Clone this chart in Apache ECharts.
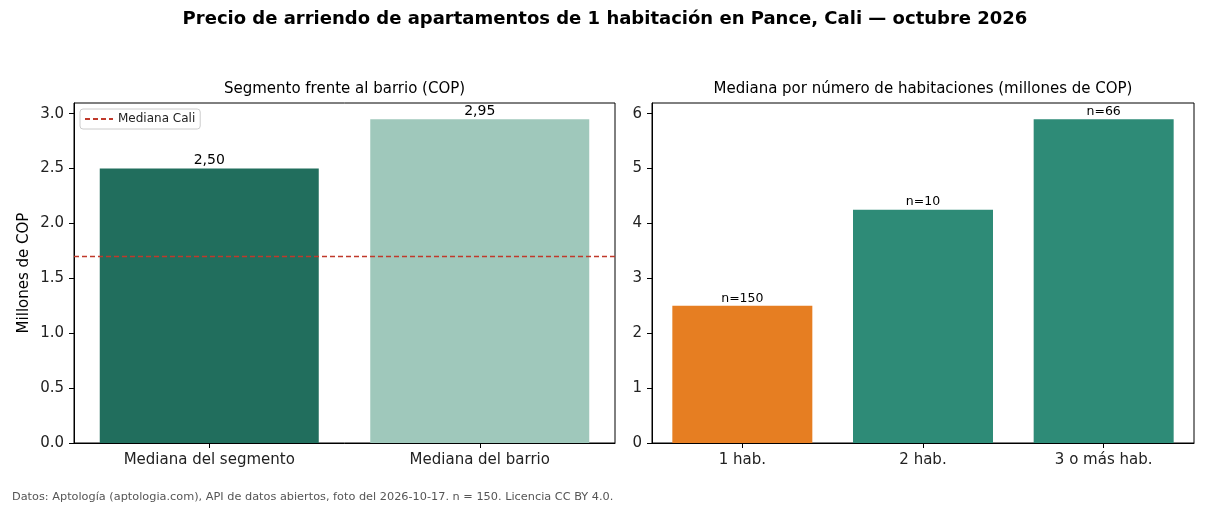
<!DOCTYPE html>
<html>
<head>
<meta charset="utf-8">
<script src="https://cdn.jsdelivr.net/npm/echarts@6/dist/echarts.min.js"></script>
<style>
    html, body { margin: 0; padding: 0; background: #fff; }
    #chart { width: 1210px; height: 506px; }
</style>
</head>
<body>
<div id="chart"></div>
<script>
// datos
const segCategories = ['Mediana del segmento', 'Mediana del barrio']
const segValues = [2.50, 2.95]
const medianaCali = 1.70
const habCategories = ['1 hab.', '2 hab.', '3 o más hab.']
const habValues = [2.50, 4.25, 5.90]
const habCounts = [150, 10, 66]

const segColors = ['#216e5d', '#9fc8bb']
const habColors = ['#e67e22', '#2e8b77', '#2e8b77']
const redLine = '#c0392b'
const font = 'DejaVu Sans'

const chart = echarts.init(document.getElementById('chart'))

const axisCommon = {
    axisLine: { show: true, lineStyle: { color: '#000', width: 1 } },
    axisTick: { show: true, inside: false, length: 5, lineStyle: { color: '#000' } },
    axisLabel: { color: '#222', fontSize: 15, fontFamily: font, margin: 10 },
    splitLine: { show: false }
}

chart.setOption({
    animation: false,
    textStyle: { fontFamily: font },
    title: [
        {
            text: 'Precio de arriendo de apartamentos de 1 habitación en Pance, Cali — octubre 2026',
            left: 605, top: 10, textAlign: 'center', padding: 0,
            textStyle: { fontSize: 18, fontWeight: 'bold', color: '#000', fontFamily: font }
        },
        {
            text: 'Segmento frente al barrio (COP)',
            left: 344.5, top: 82, textAlign: 'center', padding: 0,
            textStyle: { fontSize: 15, fontWeight: 'normal', color: '#000', fontFamily: font }
        },
        {
            text: 'Mediana por número de habitaciones (millones de COP)',
            left: 923, top: 82, textAlign: 'center', padding: 0,
            textStyle: { fontSize: 15, fontWeight: 'normal', color: '#000', fontFamily: font }
        },
        {
            text: 'Datos: Aptología (aptologia.com), API de datos abiertos, foto del 2026-10-17. n = 150. Licencia CC BY 4.0.',
            left: 12, top: 492, padding: 0,
            textStyle: { fontSize: 11.3, fontWeight: 'normal', color: '#555', fontFamily: font }
        }
    ],
    legend: {
        data: ['Mediana Cali'],
        left: 80, top: 109,
        orient: 'vertical',
        backgroundColor: '#fff',
        borderColor: '#cccccc',
        borderWidth: 1,
        borderRadius: 3,
        padding: [4, 5, 4, 4],
        itemWidth: 28,
        itemHeight: 12,
        itemGap: 4,
        itemStyle: { opacity: 0 },
        textStyle: { fontSize: 12, color: '#222', fontFamily: font }
    },
    grid: [
        { left: 74, right: 595, top: 103, bottom: 63, show: true, borderColor: '#000', borderWidth: 1 },
        { left: 652, right: 16, top: 103, bottom: 63, show: true, borderColor: '#000', borderWidth: 1 }
    ],
    xAxis: [
        Object.assign({}, axisCommon, {
            type: 'category', gridIndex: 0, data: segCategories,
            axisTick: Object.assign({}, axisCommon.axisTick, { alignWithLabel: true })
        }),
        Object.assign({}, axisCommon, {
            type: 'category', gridIndex: 1, data: habCategories,
            axisTick: Object.assign({}, axisCommon.axisTick, { alignWithLabel: true })
        })
    ],
    yAxis: [
        Object.assign({}, axisCommon, {
            type: 'value', gridIndex: 0, min: 0, max: 3.0975, interval: 0.5,
            name: 'Millones de COP', nameLocation: 'middle', nameGap: 42,
            nameTextStyle: { fontSize: 15, color: '#000', fontFamily: font },
            axisLabel: Object.assign({}, axisCommon.axisLabel, {
                showMaxLabel: false,
                formatter: v => v.toFixed(1)
            })
        }),
        Object.assign({}, axisCommon, {
            type: 'value', gridIndex: 1, min: 0, max: 6.195, interval: 1,
            axisLabel: Object.assign({}, axisCommon.axisLabel, {
                showMaxLabel: false,
                formatter: v => String(Math.round(v))
            })
        })
    ],
    series: [
        {
            type: 'bar',
            xAxisIndex: 0, yAxisIndex: 0,
            barWidth: 219,
            data: segValues.map((v, i) => ({ value: v, itemStyle: { color: segColors[i] } })),
            label: {
                show: true, position: 'top', distance: 1,
                fontSize: 14, color: '#000', fontFamily: font,
                formatter: p => p.value.toFixed(2).replace('.', ',')
            }
        },
        {
            name: 'Mediana Cali',
            type: 'line',
            xAxisIndex: 0, yAxisIndex: 0,
            data: [],
            symbol: 'none',
            itemStyle: { color: redLine },
            lineStyle: { color: redLine, type: [5, 3], width: 1.4 },
            markLine: {
                silent: true,
                symbol: 'none',
                label: { show: false },
                lineStyle: { color: redLine, type: [5, 3], width: 1.4 },
                data: [{ yAxis: medianaCali }]
            }
        },
        {
            type: 'bar',
            xAxisIndex: 1, yAxisIndex: 1,
            barWidth: 140,
            data: habValues.map((v, i) => ({ value: v, itemStyle: { color: habColors[i] } })),
            label: {
                show: true, position: 'top', distance: 1,
                fontSize: 12.5, color: '#000', fontFamily: font,
                formatter: p => 'n=' + habCounts[p.dataIndex]
            }
        }
    ]
})
</script>
</body>
</html>
